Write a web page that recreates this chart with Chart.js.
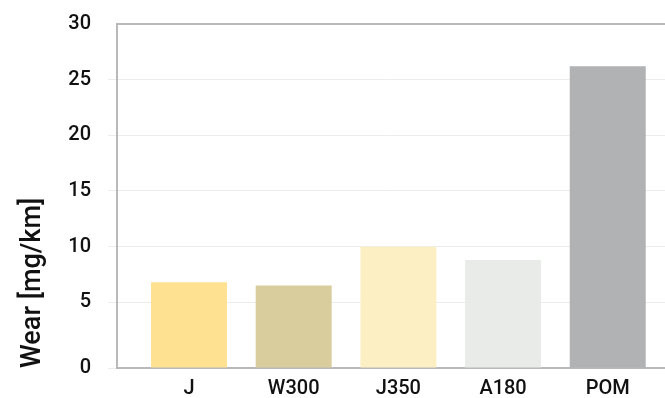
<!DOCTYPE html>
<html>
<head>
<meta charset="utf-8">
<script src="https://cdn.jsdelivr.net/npm/chart.js@4/dist/chart.umd.min.js"></script>
<style>
  html, body { margin: 0; padding: 0; background: #ffffff; }
  canvas { display: block; }
</style>
</head>
<body>
<canvas id="c" width="665" height="398"></canvas>
<script>
// ---- data ----
const CATEGORIES = ['J', 'W300', 'J350', 'A180', 'POM'];
const WEAR = [6.8, 6.5, 10.0, 8.8, 26.2];
const Y_TICKS = [0, 5, 10, 15, 20, 25, 30];
const Y_TITLE = 'Wear [mg/km]';

// ---- styling ----
const BAR_COLORS = ['#fee291', '#d9cd9d', '#fdefc4', '#e9ebe8', '#b1b2b4'];
const AXIS_COLOR = '#b9b9b9';
const GRID_COLOR = '#ececec';
const TEXT_COLOR = '#111111';
const FONT_FAMILY = 'Roboto, "Liberation Sans", Arial, sans-serif';

// The reference draws its zero line slightly below where the 5-unit spacing would put it.
const Y_MIN = -0.9;
const Y_MAX = 30;
const X_MIN = -0.688;
const X_MAX = 4.547;

const ctx = document.getElementById('c').getContext('2d');
new Chart(ctx, {
  type: 'bar',
  data: {
    datasets: [{
      data: WEAR.map((v, i) => ({ x: i, y: v })),
      backgroundColor: BAR_COLORS,
      borderWidth: 0,
      base: Y_MIN,
      categoryPercentage: 1.0,
      barPercentage: 0.726
    }]
  },
  options: {
    responsive: false,
    devicePixelRatio: 1,
    animation: false,
    layout: { padding: { top: 24, right: 0, bottom: 0, left: 0 } },
    plugins: { legend: { display: false }, tooltip: { enabled: false } },
    scales: {
      x: {
        type: 'linear',
        offset: false,
        min: X_MIN,
        max: X_MAX,
        afterBuildTicks: s => { s.ticks = CATEGORIES.map((_, i) => ({ value: i })); },
        ticks: {
          callback: (v, i) => CATEGORIES[i],
          autoSkip: false,
          maxRotation: 0,
          padding: 9,
          color: TEXT_COLOR,
          font: { family: FONT_FAMILY, size: 20, weight: 500 }
        },
        grid: { display: false, drawTicks: false, offset: false },
        border: { display: true, color: AXIS_COLOR, width: 2 },
        afterFit: s => { s.height = 30; s.paddingLeft = 0; s.paddingRight = 0; }
      },
      y: {
        type: 'linear',
        min: Y_MIN,
        max: Y_MAX,
        afterBuildTicks: s => { s.ticks = Y_TICKS.map(v => ({ value: v === 0 ? Y_MIN : v })); },
        ticks: {
          callback: (v, i) => String(Y_TICKS[i]),
          padding: 17,
          color: TEXT_COLOR,
          font: { family: FONT_FAMILY, size: 20, weight: 500 }
        },
        grid: {
          color: c => (c.tick && c.tick.value === Y_MAX) ? AXIS_COLOR : GRID_COLOR,
          lineWidth: c => (c.tick && c.tick.value === Y_MAX) ? 2 : 1,
          tickColor: c => (c.tick && c.tick.value === Y_MAX) ? 'rgba(0,0,0,0)' : GRID_COLOR,
          tickLength: 9,
          drawOnChartArea: true
        },
        border: { display: true, color: AXIS_COLOR, width: 2 },
        title: {
          display: true,
          text: Y_TITLE,
          align: 'start',
          color: TEXT_COLOR,
          font: { family: FONT_FAMILY, size: 27, weight: 500 },
          padding: { top: 17, bottom: 0 }
        },
        afterFit: s => { s.width = 117; s.paddingTop = 0; s.paddingBottom = 0; }
      }
    }
  }
});
</script>
</body>
</html>
